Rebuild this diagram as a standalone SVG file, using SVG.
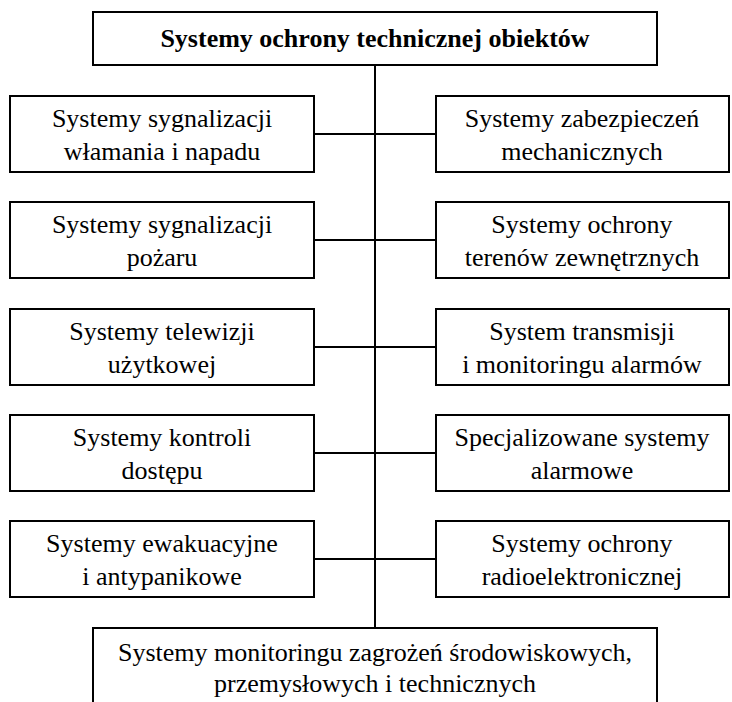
<svg xmlns="http://www.w3.org/2000/svg" width="732" height="702" viewBox="0 0 732 702">
<style>
rect{fill:#fff;stroke:#000;stroke-width:2}
line{stroke:#000;stroke-width:2}
text{font-family:"Liberation Serif","Times New Roman",Times,serif;font-size:26px;fill:#000;text-anchor:middle}
.b{font-weight:bold}
</style>
<rect x="0" y="0" width="732" height="702" style="fill:#fff;stroke:none"/>
<g id="connectors">
<line x1="375" y1="65" x2="375" y2="628"/>
<line x1="314" y1="134" x2="436" y2="134"/>
<line x1="314" y1="240" x2="436" y2="240"/>
<line x1="314" y1="347" x2="436" y2="347"/>
<line x1="314" y1="453" x2="436" y2="453"/>
<line x1="314" y1="559" x2="436" y2="559"/>
</g>
<g id="root"><rect x="93" y="12" width="564" height="53"/><text class="b" x="375" y="47">Systemy ochrony technicznej obiektów</text></g>
<g id="l1"><rect x="10" y="96" width="304" height="76"/><text x="162" y="127">Systemy sygnalizacji</text><text x="162" y="160">włamania i napadu</text></g>
<g id="l2"><rect x="10" y="202" width="304" height="76"/><text x="162" y="233">Systemy sygnalizacji</text><text x="162" y="266">pożaru</text></g>
<g id="l3"><rect x="10" y="309" width="304" height="76"/><text x="162" y="340">Systemy telewizji</text><text x="162" y="373">użytkowej</text></g>
<g id="l4"><rect x="10" y="415" width="304" height="76"/><text x="162" y="446">Systemy kontroli</text><text x="162" y="479">dostępu</text></g>
<g id="l5"><rect x="10" y="521" width="304" height="76"/><text x="162" y="552">Systemy ewakuacyjne</text><text x="162" y="585">i antypanikowe</text></g>
<g id="r1"><rect x="436" y="96" width="293" height="76"/><text x="582" y="127">Systemy zabezpieczeń</text><text x="582" y="160">mechanicznych</text></g>
<g id="r2"><rect x="436" y="202" width="293" height="76"/><text x="582" y="233">Systemy ochrony</text><text x="582" y="266">terenów zewnętrznych</text></g>
<g id="r3"><rect x="436" y="309" width="293" height="76"/><text x="582" y="340">System transmisji</text><text x="582" y="373">i monitoringu alarmów</text></g>
<g id="r4"><rect x="436" y="415" width="293" height="76"/><text x="582" y="446">Specjalizowane systemy</text><text x="582" y="479">alarmowe</text></g>
<g id="r5"><rect x="436" y="521" width="293" height="76"/><text x="582" y="552">Systemy ochrony</text><text x="582" y="585">radioelektronicznej</text></g>
<g id="bottom"><rect x="93" y="628" width="564" height="80"/><text x="375" y="661">Systemy monitoringu zagrożeń środowiskowych,</text><text x="375" y="692">przemysłowych i technicznych</text></g>
</svg>
